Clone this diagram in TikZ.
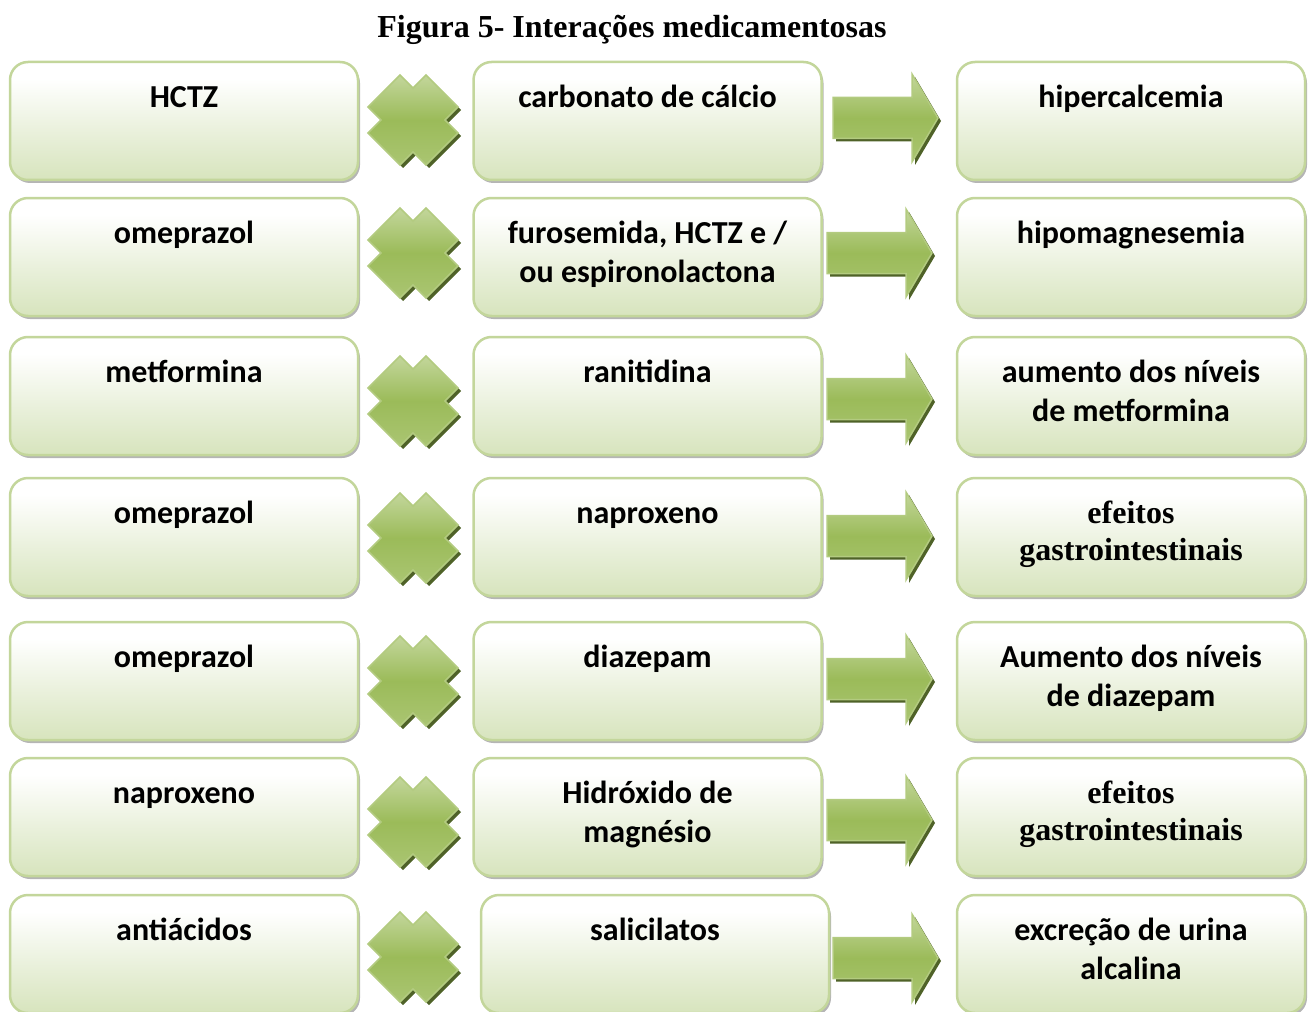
\documentclass[tikz,border=0pt]{standalone}
\usepackage{fontspec}
\setmainfont{Liberation Serif}
\newfontfamily\calibri{Carlito}
\usetikzlibrary{shadows}

\definecolor{bordaverde}{HTML}{C3D69B}
\definecolor{fundoverde}{HTML}{D7E4BD}
\definecolor{verdemedio}{HTML}{9BBB59}
\definecolor{verdeclaro}{HTML}{B3CB80}
\definecolor{verdeescuro}{HTML}{4F6228}
\definecolor{sombracinza}{HTML}{A3A3A3}

\pgfdeclareverticalshading{caixafundo}{100bp}{color(0bp)=(fundoverde); color(25bp)=(fundoverde); color(45bp)=(fundoverde!55!white); color(68bp)=(white); color(100bp)=(white)}
\pgfdeclareverticalshading{formaverde}{100bp}{color(0bp)=(verdemedio!85!white); color(25bp)=(verdemedio!85!white); color(50bp)=(verdemedio); color(75bp)=(verdemedio!60!white); color(100bp)=(verdemedio!60!white)}

\tikzset{
  caixa/.style={draw=bordaverde, line width=2.5pt, rounded corners=18pt, shade, shading=caixafundo,
    minimum width=348pt, minimum height=118pt, inner sep=0pt,
    drop shadow={shadow xshift=2pt, shadow yshift=-3pt, fill=sombracinza, opacity=0.8}},
  txt/.style={font=\calibri\bfseries\fontsize{32}{38.5}\selectfont, align=center, inner sep=0pt, anchor=base},
  txtserif/.style={font=\bfseries\fontsize{32}{37}\selectfont, align=center, inner sep=0pt, anchor=base},
  cruz/.pic={
    \fill[verdeescuro, shift={(3,3)}] (-45,-13)--(-13,-45)--(0,-32)--(13,-45)--(45,-13)--(32,0)--(45,13)--(13,45)--(0,32)--(-13,45)--(-45,13)--(-32,0)--cycle;
    \shadedraw[draw=verdeclaro, line width=1.5pt, shading=formaverde] (-45,-13)--(-13,-45)--(0,-32)--(13,-45)--(45,-13)--(32,0)--(45,13)--(13,45)--(0,32)--(-13,45)--(-45,13)--(-32,0)--cycle;
  },
  seta/.pic={
    \fill[verdeescuro, shift={(3,3)}] (-52.5,-20.5)--(26.5,-20.5)--(26.5,-44)--(52.5,0)--(26.5,44)--(26.5,20.5)--(-52.5,20.5)--cycle;
    \shadedraw[draw=verdeclaro, line width=1.5pt, shading=formaverde] (-52.5,-20.5)--(26.5,-20.5)--(26.5,-44)--(52.5,0)--(26.5,44)--(26.5,20.5)--(-52.5,20.5)--cycle;
  },
}

\begin{document}
\begin{tikzpicture}[x=1pt, y=-1pt]
\useasboundingbox (0,0) rectangle (1313,1011);
\node[txtserif] (titulo) at (632,38) {Figura 5- Interações medicamentosas};

\node[caixa] (a1) at (184,121) {};
\node[caixa] (b1) at (647.5,121) {};
\node[caixa] (c1) at (1131,121) {};
\node[caixa] (a2) at (184,257) {};
\node[caixa] (b2) at (647.5,257) {};
\node[caixa] (c2) at (1131,257) {};
\node[caixa] (a3) at (184,396) {};
\node[caixa] (b3) at (647.5,396) {};
\node[caixa] (c3) at (1131,396) {};
\node[caixa] (a4) at (184,537) {};
\node[caixa] (b4) at (647.5,537) {};
\node[caixa] (c4) at (1131,537) {};
\node[caixa] (a5) at (184,681) {};
\node[caixa] (b5) at (647.5,681) {};
\node[caixa] (c5) at (1131,681) {};
\node[caixa] (a6) at (184,817) {};
\node[caixa] (b6) at (647.5,817) {};
\node[caixa] (c6) at (1131,817) {};
\node[caixa] (a7) at (184,954) {};
\node[caixa] (b7) at (655,954) {};
\node[caixa] (c7) at (1131,954) {};

\node[txt] (ta1) at ([yshift=-47pt]a1.north) {HCTZ};
\node[txt] (tb1) at ([yshift=-47pt]b1.north) {carbonato de cálcio};
\node[txt] (tc1) at ([yshift=-47pt]c1.north) {hipercalcemia};
\node[txt] (ta2) at ([yshift=-47pt]a2.north) {omeprazol};
\node[txt] (tb2) at ([yshift=-85.5pt]b2.north) {furosemida, HCTZ e /\\ou espironolactona};
\node[txt] (tc2) at ([yshift=-47pt]c2.north) {hipomagnesemia};
\node[txt] (ta3) at ([yshift=-47pt]a3.north) {metformina};
\node[txt] (tb3) at ([yshift=-47pt]b3.north) {ranitidina};
\node[txt] (tc3) at ([yshift=-85.5pt]c3.north) {aumento dos níveis\\de metformina};
\node[txt] (ta4) at ([yshift=-47pt]a4.north) {omeprazol};
\node[txt] (tb4) at ([yshift=-47pt]b4.north) {naproxeno};
\node[txtserif] (tc4) at ([yshift=-84pt]c4.north) {efeitos\\gastrointestinais};
\node[txt] (ta5) at ([yshift=-47pt]a5.north) {omeprazol};
\node[txt] (tb5) at ([yshift=-47pt]b5.north) {diazepam};
\node[txt] (tc5) at ([yshift=-85.5pt]c5.north) {Aumento dos níveis\\de diazepam};
\node[txt] (ta6) at ([yshift=-47pt]a6.north) {naproxeno};
\node[txt] (tb6) at ([yshift=-85.5pt]b6.north) {Hidróxido de\\magnésio};
\node[txtserif] (tc6) at ([yshift=-84pt]c6.north) {efeitos\\gastrointestinais};
\node[txt] (ta7) at ([yshift=-47pt]a7.north) {antiácidos};
\node[txt] (tb7) at ([yshift=-47pt]b7.north) {salicilatos};
\node[txt] (tc7) at ([yshift=-85.5pt]c7.north) {excreção de urina\\alcalina};

\pic at (413,120) {cruz};
\pic at (413,253) {cruz};
\pic at (413,401) {cruz};
\pic at (413,538) {cruz};
\pic at (413,681) {cruz};
\pic at (413,822) {cruz};
\pic at (413,957) {cruz};

\pic at (885.5,118) {seta};
\pic at (879.5,253) {seta};
\pic at (879.5,399) {seta};
\pic at (879.5,536) {seta};
\pic at (879.5,679) {seta};
\pic at (879.5,820) {seta};
\pic at (885.5,958) {seta};
\end{tikzpicture}
\end{document}
